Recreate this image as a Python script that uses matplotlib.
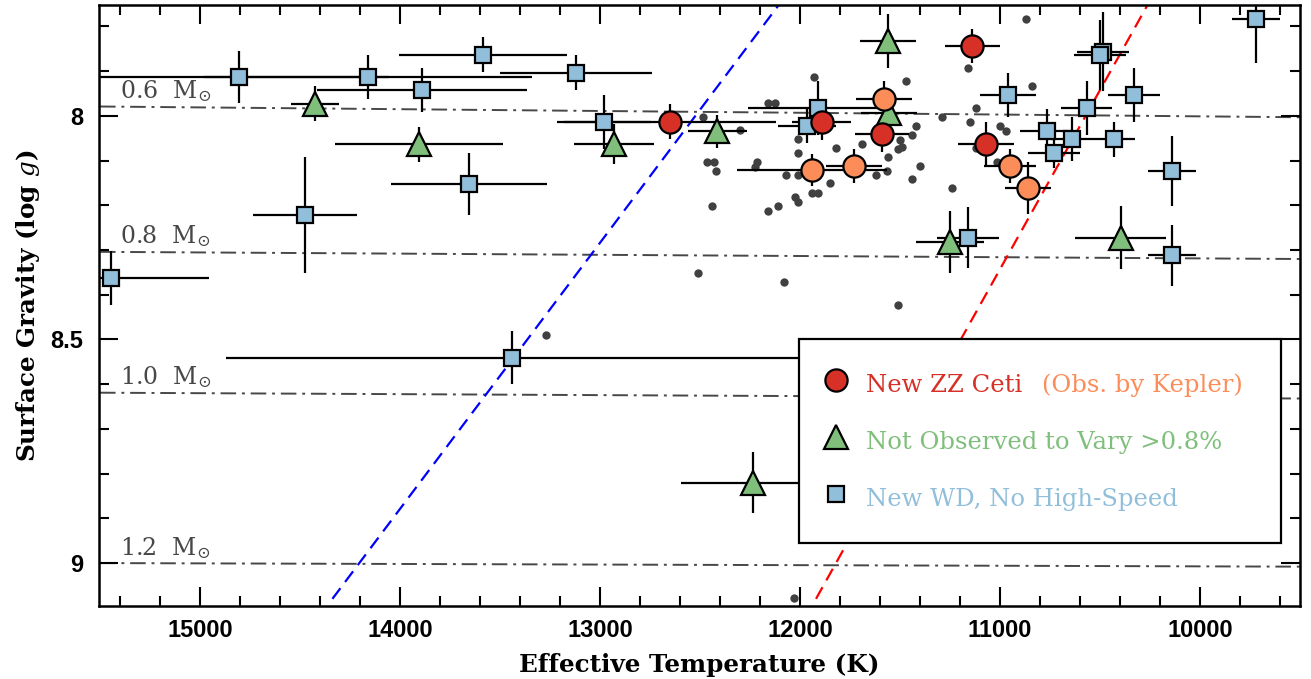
import matplotlib
matplotlib.use('Agg')
import matplotlib.pyplot as plt
from matplotlib.lines import Line2D
from matplotlib.ticker import MultipleLocator, FuncFormatter

# ---------------- data ----------------
zz_T = [12650, 11892, 11588, 11138, 11070]
zz_g = [8.013, 8.013, 8.041, 7.843, 8.063]
zz_Terr = [528, 146, 135, 137, 140]
zz_gerr = [0.039, 0.040, 0.039, 0.038, 0.049]

kep_T = [11578, 11940, 11730, 10950, 10860]
kep_g = [7.962, 8.121, 8.111, 8.112, 8.162]
kep_Terr = [140, 375, 140, 128, 117]
kep_gerr = [0.039, 0.036, 0.038, 0.038, 0.058]

nov_T = [14423, 13903, 12928, 12413, 11558, 11553, 11250, 10397, 12237]
nov_g = [7.973, 8.063, 8.063, 8.034, 7.833, 7.994, 8.282, 8.272, 8.820]
nov_Terr = [120, 420, 200, 147, 140, 140, 170, 229, 358]
nov_gerr = [0.039, 0.039, 0.044, 0.037, 0.060, 0.040, 0.070, 0.070, 0.068]

wd_T = [14803, 14161, 13583, 13892, 13120, 12982, 13653, 14475, 15447, 13440,
        11908, 11963, 10958, 10767, 10730, 10640, 10430, 10567, 10328, 10483,
        10500, 9720, 10138, 10138, 11158]
wd_g = [7.913, 7.913, 7.863, 7.943, 7.903, 8.013, 8.152, 8.222, 8.362, 8.541,
        7.983, 8.022, 7.953, 8.033, 8.082, 8.052, 8.052, 7.983, 7.953, 7.856,
        7.863, 7.783, 8.123, 8.312, 8.272]
wd_Terr = [750, 820, 420, 525, 380, 235, 390, 258, 490, 1430,
           350, 145, 140, 133, 130, 105, 105, 128, 130, 130,
           130, 118, 120, 120, 155]
wd_gerr = [0.059, 0.050, 0.039, 0.049, 0.039, 0.060, 0.069, 0.129, 0.060, 0.059,
           0.060, 0.039, 0.049, 0.049, 0.034, 0.049, 0.039, 0.060, 0.060, 0.088,
           0.078, 0.099, 0.079, 0.069, 0.069]

known_T = [11930, 11470, 12159, 12125, 12484, 12300, 11420, 11439, 12012, 11820,
           11692, 11500, 11492, 11509, 12012, 11559, 12467, 12429, 12420, 12217,
           12225, 12070, 12012, 11620, 11567, 11400, 11442, 11850, 11942, 11909,
           12025, 12012, 12112, 12162, 12442, 12512, 12080, 11512, 10870, 11159,
           10839, 11120, 11292, 11150, 11000, 10970, 11120, 11242, 11017, 13270,
           12030]
known_g = [7.912, 7.922, 7.972, 7.972, 8.002, 8.031, 8.022, 8.043, 8.052, 8.072,
           8.063, 8.054, 8.069, 8.074, 8.082, 8.091, 8.102, 8.102, 8.123, 8.102,
           8.114, 8.132, 8.132, 8.132, 8.123, 8.111, 8.142, 8.151, 8.172, 8.172,
           8.181, 8.192, 8.202, 8.212, 8.202, 8.351, 8.372, 8.422, 7.783, 7.893,
           7.933, 7.983, 8.002, 8.013, 8.022, 8.033, 8.072, 8.162, 8.102, 8.491,
           9.079]

mass_labels = ["0.6", "0.8", "1.0", "1.2"]
mass_T = [15500, 9500]
mass_g_hot = [7.979, 8.304, 8.619, 9.000]
mass_g_cool = [8.003, 8.320, 8.632, 9.008]

blue_edge_T = [14338, 12103]
blue_edge_g = [9.08, 7.75]
red_edge_T = [11920, 10260]
red_edge_g = [9.08, 7.75]

legend_labels = ["New ZZ Ceti", "(Obs. by Kepler)",
                 "Not Observed to Vary >0.8%", "New WD, No High-Speed"]

# ---------------- style ----------------
RED = '#d73027'
ORANGE = '#fc8d59'
GREEN = '#7fbf7b'
BLUE = '#91bfdb'
SERIF = 'DejaVu Serif'
SANS = 'Liberation Sans'
plt.rcParams['mathtext.fontset'] = 'dejavuserif'

fig = plt.figure(figsize=(13.11, 6.79), dpi=100)
ax = fig.add_axes([0.07552, 0.10751, 0.91609, 0.88513])

# mass tracks
for lab, g0, g1 in zip(mass_labels, mass_g_hot, mass_g_cool):
    ax.plot(mass_T, [g0, g1], color='#474747', lw=1.4,
            dashes=(8, 3, 1.5, 3), zorder=1)
    ax.annotate(lab + r"  M$_{\odot}$", xy=(15400, g0), xytext=(0, 6),
                textcoords='offset points', ha='left', va='baseline',
                fontsize=17, color='#474747', family=SERIF, zorder=1)

# instability strip edges
ax.plot(blue_edge_T, blue_edge_g, color='#0000ff', lw=1.6, dashes=(6, 3.5), zorder=1)
ax.plot(red_edge_T, red_edge_g, color='#ff0000', lw=1.6, dashes=(6, 3.5), zorder=1)

# known ZZ Cetis
ax.plot(known_T, known_g, ls='none', marker='o', ms=6, color='#404040',
        mec='none', zorder=2)

# error bars
for T, g, Te, ge in [(wd_T, wd_g, wd_Terr, wd_gerr),
                     (nov_T, nov_g, nov_Terr, nov_gerr),
                     (zz_T, zz_g, zz_Terr, zz_gerr),
                     (kep_T, kep_g, kep_Terr, kep_gerr)]:
    ax.errorbar(T, g, xerr=Te, yerr=ge, fmt='none', ecolor='k',
                elinewidth=1.6, capsize=0, zorder=3)

ax.plot(wd_T, wd_g, ls='none', marker='s', ms=11.5, mfc=BLUE, mec='k',
        mew=1.6, zorder=4)
ax.plot(nov_T, nov_g, ls='none', marker='^', ms=17, mfc=GREEN, mec='k',
        mew=1.6, zorder=5)
ax.plot(zz_T, zz_g, ls='none', marker='o', ms=16, mfc=RED, mec='k',
        mew=1.6, zorder=6)
ax.plot(kep_T, kep_g, ls='none', marker='o', ms=16, mfc=ORANGE, mec='k',
        mew=1.6, zorder=6)

# axes
ax.set_xlim(15505, 9500)
ax.set_ylim(9.096, 7.752)
ax.xaxis.set_major_locator(MultipleLocator(1000))
ax.xaxis.set_minor_locator(MultipleLocator(200))
ax.yaxis.set_major_locator(MultipleLocator(0.5))
ax.yaxis.set_minor_locator(MultipleLocator(0.1))
ax.yaxis.set_major_formatter(FuncFormatter(lambda v, p: '%g' % v))
ax.tick_params(which='both', direction='in', top=True, right=True,
               width=1.5, labelsize=17)
ax.tick_params(which='major', length=14)
ax.tick_params(which='minor', length=7)
ax.tick_params(axis='x', pad=9)
ax.tick_params(axis='y', pad=11.5)
for lbl in ax.get_xticklabels() + ax.get_yticklabels():
    lbl.set_family(SANS)
    lbl.set_fontweight('bold')
for s in ax.spines.values():
    s.set_linewidth(1.8)

ax.set_xlabel("Effective Temperature (K)", family=SERIF, fontweight='bold',
              fontsize=17.7, labelpad=8.5)
ax.set_ylabel(r"Surface Gravity (log $\mathit{g}$)", family=SERIF,
              fontweight='bold', fontsize=17.7, labelpad=6)

# legend
h1 = Line2D([], [], ls='none', marker='o', ms=16, mfc=RED, mec='k', mew=1.6)
h2 = Line2D([], [], ls='none', marker='^', ms=17, mfc=GREEN, mec='k', mew=1.6)
h3 = Line2D([], [], ls='none', marker='s', ms=11.5, mfc=BLUE, mec='k', mew=1.6)
leg = ax.legend([h1, h2, h3],
                [legend_labels[0], legend_labels[2], legend_labels[3]],
                loc='upper left', bbox_to_anchor=(0.583, 0.4438, 0.401, 0),
                mode='expand', borderaxespad=0, fancybox=False, framealpha=1,
                edgecolor='k', handlelength=0.6, handletextpad=0.935,
                borderpad=1.21, labelspacing=1.06, handleheight=1.6,
                prop={'family': SERIF, 'size': 17.5})
leg.get_frame().set_linewidth(1.6)
leg.set_zorder(10)
for t, c in zip(leg.get_texts(), [RED, GREEN, BLUE]):
    t.set_color(c)
ax.annotate(legend_labels[1], xy=(1, 0), xycoords=leg.get_texts()[0],
            xytext=(14, 0), textcoords='offset points', ha='left', va='bottom',
            color=ORANGE, family=SERIF, fontsize=17.5, zorder=11)

fig.savefig('out.png', dpi=100)
